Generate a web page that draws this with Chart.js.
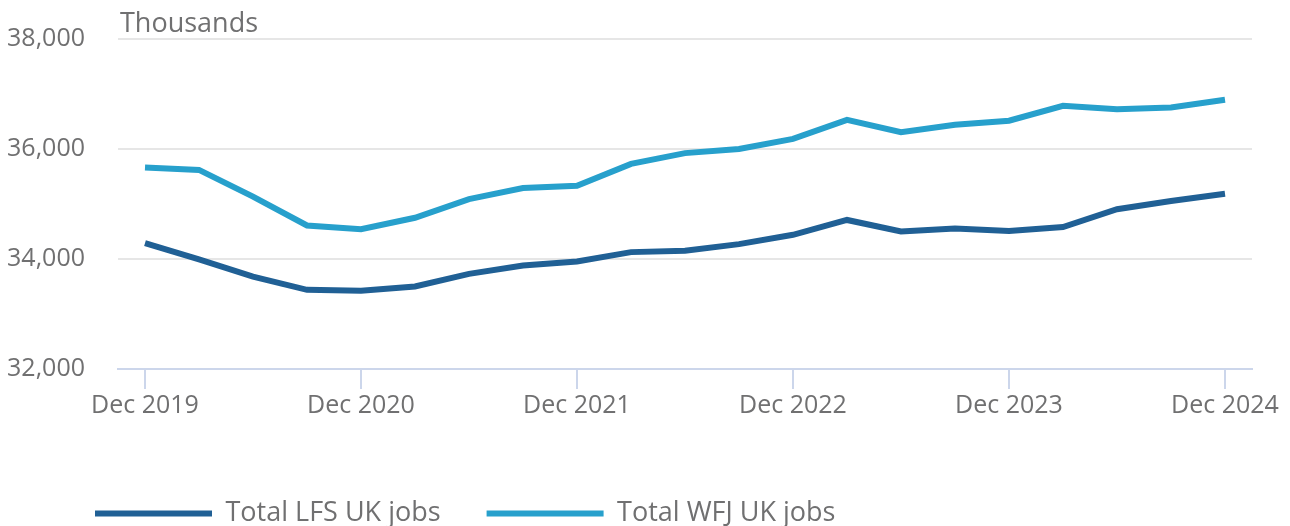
<!DOCTYPE html>
<html>
<head>
<meta charset="utf-8">
<script src="https://cdn.jsdelivr.net/npm/chart.js@4"></script>
<style>
  html, body { margin:0; padding:0; background:#fff; }
  #wrap { width:1290px; height:526px; position:relative; }
</style>
</head>
<body>
<div id="wrap"><canvas id="jobsChart"></canvas></div>
<script>
// ===== Data =====
const quarters = [
  "Dec 2019","Mar 2020","Jun 2020","Sep 2020",
  "Dec 2020","Mar 2021","Jun 2021","Sep 2021",
  "Dec 2021","Mar 2022","Jun 2022","Sep 2022",
  "Dec 2022","Mar 2023","Jun 2023","Sep 2023",
  "Dec 2023","Mar 2024","Jun 2024","Sep 2024",
  "Dec 2024"
];
const lfsJobs = [34290,33995,33680,33440,33425,33500,33730,33880,33955,34125,34150,34270,34440,34710,34500,34555,34510,34580,34905,35055,35185];
const wfjJobs = [35665,35620,35135,34610,34540,34750,35090,35290,35330,35730,35925,36000,36185,36530,36305,36440,36515,36785,36725,36755,36895];
const yTicks = [32000,34000,36000,38000];

const TEXT = "#707071";
const FONT = "'Open Sans', sans-serif";
Chart.defaults.font.family = FONT;
Chart.defaults.font.size = 25;
Chart.defaults.color = TEXT;

// "Thousands" label above plot area + legend nudge
const extras = {
  id: "extras",
  afterLayout(chart) {
    const lg = chart.legend;
    if (!lg) return;
    lg.left += 49; lg.right += 49;
    const h = lg.bottom - lg.top;
    lg.top = 454; lg.bottom = 454 + h;
  },
  afterDraw(chart) {
    const { ctx, chartArea } = chart;
    ctx.save();
    ctx.font = "27px " + FONT;
    ctx.fillStyle = TEXT;
    ctx.textBaseline = "alphabetic";
    ctx.fillText("Thousands", chartArea.left + 2, 32);
    ctx.restore();
  }
};

new Chart(document.getElementById("jobsChart"), {
  type: "line",
  data: {
    labels: quarters,
    datasets: [
      { label:"Total LFS UK jobs", data:lfsJobs, borderColor:"#206095", backgroundColor:"#206095",
        borderWidth:6, pointRadius:0, tension:0 },
      { label:"Total WFJ UK jobs", data:wfjJobs, borderColor:"#27a0cc", backgroundColor:"#27a0cc",
        borderWidth:6, pointRadius:0, tension:0 }
    ]
  },
  options: {
    responsive:true, maintainAspectRatio:false, animation:false,
    layout:{ padding:{ left:0, right:38, top:39, bottom:0 } },
    plugins:{
      tooltip:{ enabled:false },
      legend:{
        position:"bottom", align:"start",
        labels:{
          boxWidth:117, boxHeight:6, padding:46, color:TEXT, font:{ size:27 },
          generateLabels(chart){
            return Chart.defaults.plugins.legend.labels.generateLabels(chart)
              .map(l => ({ ...l, lineWidth:0 }));
          }
        }
      }
    },
    scales:{
      x:{
        offset:true,
        afterBuildTicks(scale){ scale.ticks = scale.ticks.filter(t => t.value % 4 === 0); },
        ticks:{ autoSkip:false, maxRotation:0, padding:2,
          callback(v){ return quarters[v]; } },
        grid:{ drawOnChartArea:false, offset:false, tickLength:20, color:"#ccd6eb", lineWidth:2 },
        border:{ color:"#ccd6eb", width:2 },
        afterFit(scale){ scale.height = 74; }
      },
      y:{
        min:32000, max:38000,
        afterBuildTicks(scale){ scale.ticks = yTicks.map(v => ({ value:v })); },
        ticks:{ padding:33, callback(v){ return v.toLocaleString("en-GB"); } },
        grid:{ color:"#e6e6e6", lineWidth:2, drawTicks:false },
        border:{ display:false },
        afterFit(scale){ scale.width = 118; scale.paddingTop = 0; scale.paddingBottom = 0; }
      }
    }
  },
  plugins:[extras]
});
</script>
</body>
</html>
